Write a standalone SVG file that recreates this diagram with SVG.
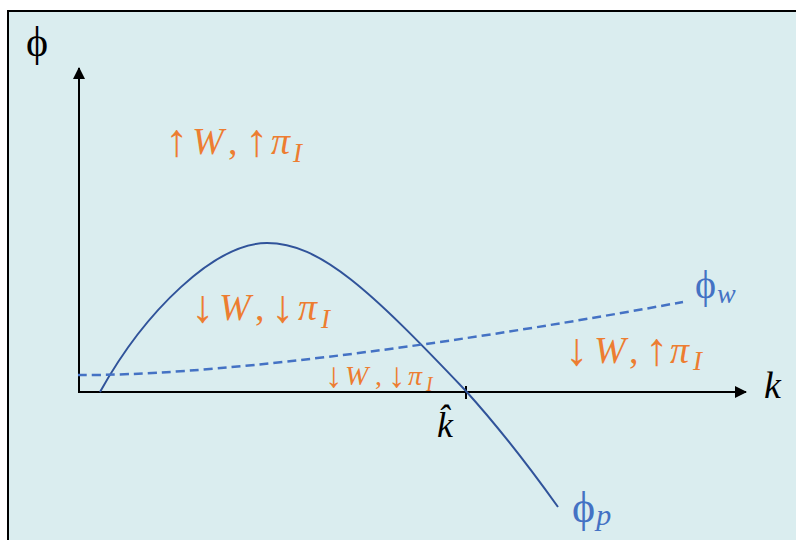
<svg xmlns="http://www.w3.org/2000/svg" width="796" height="540" viewBox="0 0 796 540">
<style>
.lab{font-family:"Liberation Serif","DejaVu Serif",serif;fill:#ED7D31}
.it{font-style:italic}
.ar{font-size:46px}
.ars{font-size:35px}
.blue{font-family:"Liberation Serif","DejaVu Serif",serif;fill:#4472C4}
.blk{font-family:"Liberation Serif","DejaVu Serif",serif;fill:#000}
.axis{stroke:#000;stroke-width:2;fill:none}
</style>
<defs>
<marker id="ah" viewBox="0 0 12 12" refX="11" refY="6" markerWidth="12" markerHeight="12" markerUnits="userSpaceOnUse" orient="auto">
<path d="M0,0 L12,6 L0,12 Z" fill="#000"/>
</marker>
</defs>
<rect x="0" y="0" width="796" height="540" fill="#fff"/>
<rect id="frame" x="8" y="11" width="800" height="540" fill="#DAEDEF" stroke="#000" stroke-width="2"/>
<g id="connectors">
<line id="y-axis" class="axis" x1="79" y1="393" x2="79" y2="68" marker-end="url(#ah)"/>
<line id="x-axis" class="axis" x1="78" y1="392" x2="746" y2="392" marker-end="url(#ah)"/>
<line id="tick" class="axis" x1="466" y1="386" x2="466" y2="399"/>
<path id="phi-p-curve" d="M100,392 C145,311 215,243 267,243 C320,243 370,290 465,390 C495,423 530,468 558,507" fill="none" stroke="#30539A" stroke-width="2"/>
<path id="phi-w-curve" d="M78,375 C200,376 420,350 683,302" fill="none" stroke="#4472C4" stroke-width="2.5" stroke-dasharray="9,5"/>
</g>
<g id="phi-axis-label"><text class="blk" x="26" y="56" font-size="42">ϕ</text></g>
<g id="k-label"><text class="blk it" x="764" y="398" font-size="38">k</text></g>
<g id="khat-label"><text class="blk it" x="437" y="437" font-size="36">k̂</text></g>
<g id="phi-w-label"><text class="blue" x="695" y="298" font-size="40">ϕ<tspan class="it" font-size="28" dx="1" dy="5">w</tspan></text></g>
<g id="phi-p-label"><text class="blue" x="572" y="522" font-size="44">ϕ<tspan class="it" font-size="30" dx="1" dy="3">p</tspan></text></g>
<g id="region-top">
<text class="lab" font-size="38" y="154"><tspan class="ar" x="165" y="156">↑</tspan><tspan class="it" x="192" y="154">W</tspan><tspan x="228">,</tspan><tspan class="ar" x="245" y="156">↑</tspan><tspan class="it" x="271" y="154">π</tspan></text>
<text class="lab it" font-size="27" x="293" y="162">I</text>
</g>
<g id="region-inner">
<text class="lab" font-size="38" y="320"><tspan class="ar" x="191" y="322">↓</tspan><tspan class="it" x="219" y="320">W</tspan><tspan x="255">,</tspan><tspan class="ar" x="271" y="322">↓</tspan><tspan class="it" x="298" y="320">π</tspan></text>
<text class="lab it" font-size="27" x="321" y="328">I</text>
</g>
<g id="region-right">
<text class="lab" font-size="38" y="363"><tspan class="ar" x="565" y="365">↓</tspan><tspan class="it" x="594" y="363">W</tspan><tspan x="629">,</tspan><tspan class="ar" x="645" y="365">↑</tspan><tspan class="it" x="670" y="363">π</tspan></text>
<text class="lab it" font-size="27" x="693" y="370">I</text>
</g>
<g id="region-small">
<text class="lab" font-size="28" y="385"><tspan class="ars" x="325" y="387">↓</tspan><tspan class="it" x="345" y="385">W</tspan><tspan x="375">,</tspan><tspan class="ars" x="388" y="387">↓</tspan><tspan class="it" x="408" y="385">π</tspan></text>
<text class="lab it" font-size="20" x="426" y="391">I</text>
</g>
</svg>
